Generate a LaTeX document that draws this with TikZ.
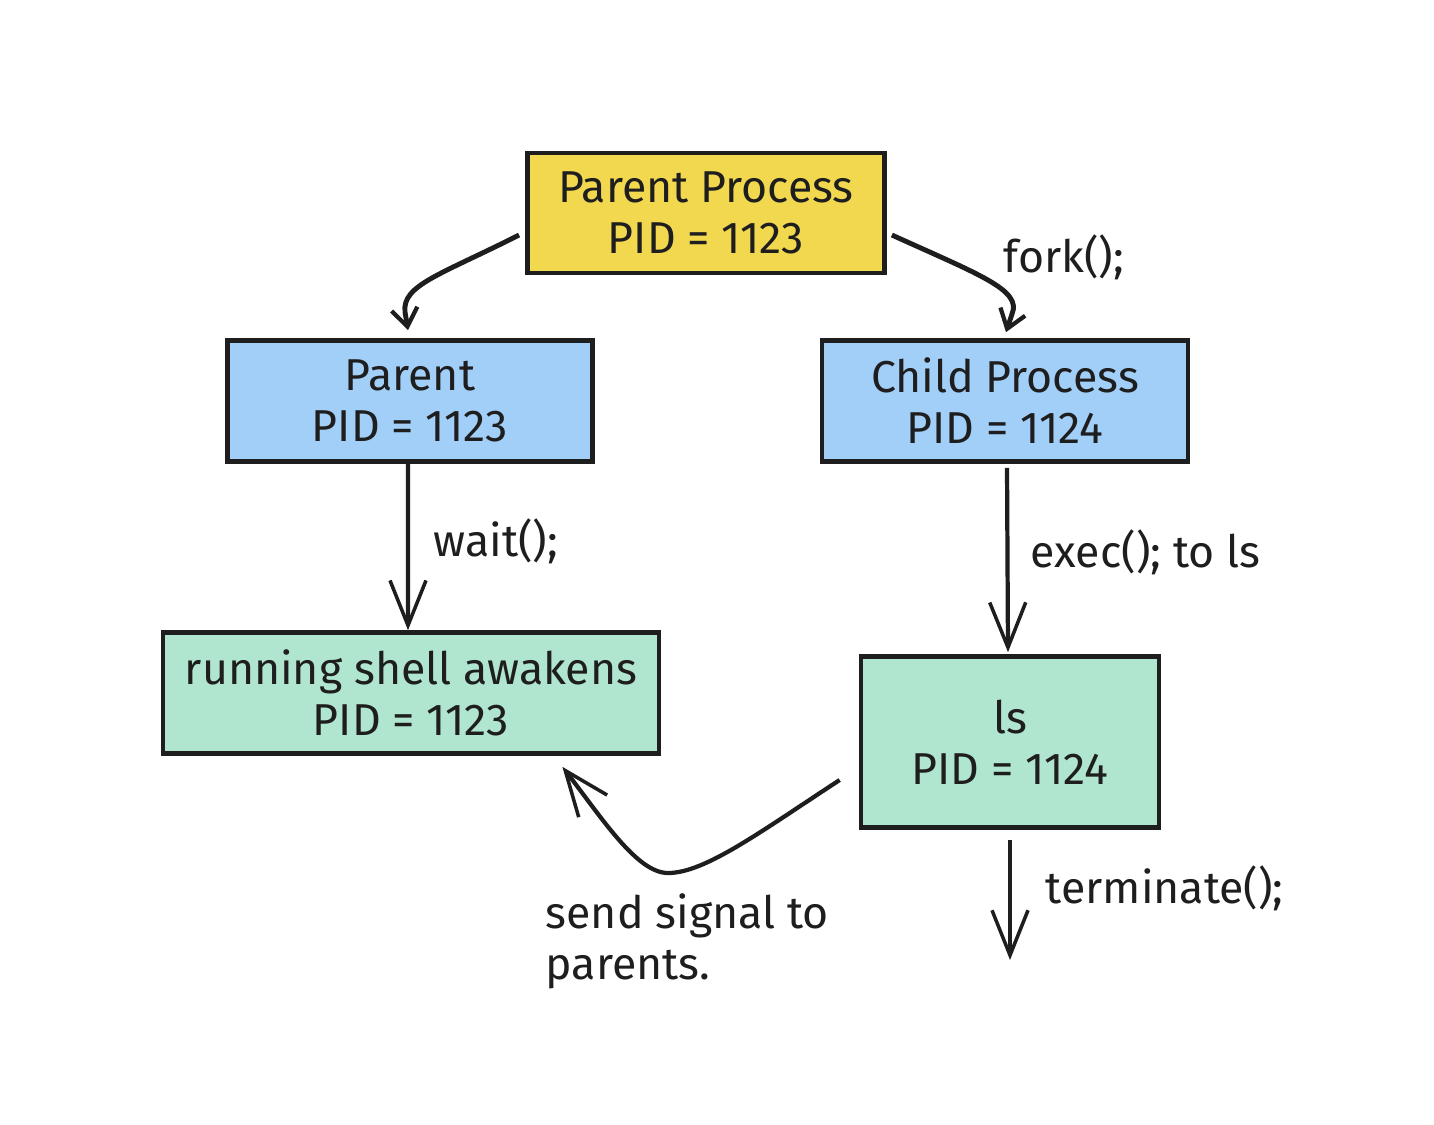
\documentclass[tikz,border=0pt]{standalone}
\usepackage{fontspec}
\setmainfont{Fira Sans}
\usetikzlibrary{arrows.meta, bending}
\definecolor{inkdark}{HTML}{1E1E1E}
\definecolor{procyellow}{HTML}{F2D84F}
\definecolor{procblue}{HTML}{A2CFF8}
\definecolor{procgreen}{HTML}{B0E5CF}
\begin{document}
\begin{tikzpicture}
    [
        x=0.01cm, y=-0.01cm,
        box/.style={rectangle, draw=inkdark, line width=1.3pt, align=center, text=inkdark, font=\fontsize{12.7}{14.5}\selectfont, inner sep=0pt},
        label/.style={anchor=west, text=inkdark, font=\fontsize{12.7}{14.5}\selectfont, align=left, inner sep=0pt},
        arrow/.style={-{Straight Barb[length=4.5mm, width=3.6mm, line width=1pt]}, line width=1.2pt, draw=inkdark},
        smallarrow/.style={-{Straight Barb[length=1.8mm, width=2.6mm, line width=1.2pt]}, line width=1.4pt, draw=inkdark}
    ]
    \useasboundingbox (0,0) rectangle (1434,1124);
    % Nodes
    \node[box, fill=procyellow, minimum width=3.57cm, minimum height=1.20cm] (top) at (706,213) {Parent Process\\PID = 1123};
    \node[box, fill=procblue, minimum width=3.65cm, minimum height=1.21cm] (parent) at (410,401) {Parent\\PID = 1123};
    \node[box, fill=procblue, minimum width=3.66cm, minimum height=1.21cm] (child) at (1005,401) {Child Process\\PID = 1124};
    \node[box, fill=procgreen, minimum width=4.96cm, minimum height=1.21cm] (running) at (411,693) {running shell awakens\\PID = 1123};
    \node[box, fill=procgreen, minimum width=2.98cm, minimum height=1.71cm] (ls) at (1010,742) {ls\\PID = 1124};
    \coordinate (termend) at (1010,960);

    % Labels
    \node[label] (forklbl) at (1003,257) {fork();};
    \node[label] (waitlbl) at (433,541) {wait();};
    \node[label] (execlbl) at (1030,552) {exec(); to ls};
    \node[label] (termlbl) at (1045,888) {terminate();};
    \node[label] (signallbl) at (545,941) {send signal to\\parents.};

    % Arrows
    \draw[smallarrow] ([xshift=-0.6mm, yshift=-2.2mm]top.west) .. controls (440,275) and (402,285) .. (405,312) -- ([xshift=-0.2mm, yshift=0.8mm]parent.north);
    \draw[smallarrow] ([xshift=0.5mm, yshift=-2.2mm]top.east) .. controls (980,275) and (1022,290) .. (1012,314) -- ([xshift=0.1mm, yshift=0.6mm]child.north);
    \draw[arrow] ([xshift=-0.2mm]parent.south) -- ([xshift=-0.3mm]running.north);
    \draw[arrow] ([xshift=0.2mm, yshift=-0.4mm]child.south) -- ([xshift=-0.2mm, yshift=0.2mm]ls.north);
    \draw[arrow] ([xshift=-1.9mm, yshift=-3.8mm]ls.west) .. controls (760,832) and (705,873) .. (668,873) .. controls (636,873) and (600,815) .. ([xshift=-9.9mm, yshift=-1.1mm]running.south east);
    \draw[arrow] ([yshift=-1mm]ls.south) -- (termend);
\end{tikzpicture}
\end{document}
